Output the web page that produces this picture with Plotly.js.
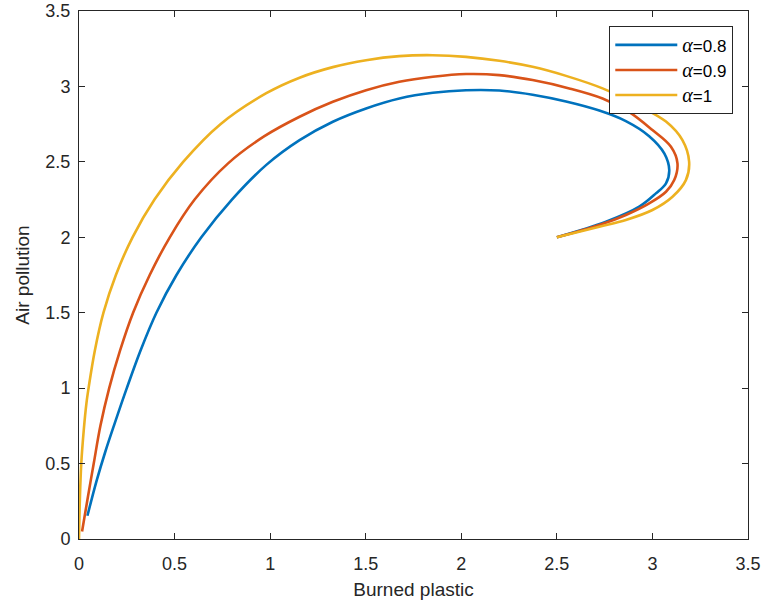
<!DOCTYPE html>
<html>
<head>
<meta charset="utf-8">
<script src="https://cdn.plot.ly/plotly-3.0.1.min.js"></script>
<style>html,body{margin:0;padding:0;background:#fff;}#chart{width:767px;height:613px;}</style>
</head>
<body>
<div id="chart"></div>
<script>
// Series names
const seriesNames = ['<span style="font-family:Liberation Serif;font-size:20px"><i>α</i></span>=0.8',
                     '<span style="font-family:Liberation Serif;font-size:20px"><i>α</i></span>=0.9',
                     '<span style="font-family:Liberation Serif;font-size:20px"><i>α</i></span>=1'];

// alpha = 0.8 (Burned plastic, Air pollution)
const x08 = [2.50, 2.757, 2.931, 3.018, 3.071, 3.088, 3.062, 2.983, 2.861, 2.722, 2.548, 2.373, 2.199, 2.025, 1.851, 1.676, 1.502, 1.328, 1.154, 0.980, 0.800, 0.640, 0.510, 0.405, 0.322, 0.250, 0.185, 0.138, 0.093, 0.044];
const y08 = [2.00, 2.103, 2.203, 2.291, 2.358, 2.446, 2.556, 2.670, 2.770, 2.840, 2.900, 2.945, 2.973, 2.975, 2.958, 2.920, 2.854, 2.766, 2.644, 2.480, 2.250, 2.000, 1.750, 1.500, 1.250, 1.000, 0.760, 0.580, 0.390, 0.154];

// alpha = 0.9
const x09 = [2.50, 2.722, 2.861, 2.983, 3.071, 3.114, 3.131, 3.097, 3.000, 2.879, 2.739, 2.565, 2.373, 2.199, 2.025, 1.851, 1.676, 1.502, 1.328, 1.154, 0.970, 0.780, 0.605, 0.475, 0.370, 0.283, 0.215, 0.158, 0.112, 0.077, 0.047, 0.016];
const y09 = [2.00, 2.081, 2.148, 2.225, 2.302, 2.379, 2.490, 2.600, 2.711, 2.830, 2.920, 2.987, 3.042, 3.075, 3.082, 3.064, 3.031, 2.975, 2.898, 2.799, 2.670, 2.490, 2.250, 2.000, 1.750, 1.500, 1.250, 1.000, 0.750, 0.500, 0.282, 0.050];

// alpha = 1
const x10 = [2.50, 2.722, 2.861, 3.000, 3.105, 3.175, 3.192, 3.157, 3.071, 2.931, 2.739, 2.548, 2.373, 2.199, 2.025, 1.851, 1.676, 1.502, 1.328, 1.154, 0.980, 0.740, 0.545, 0.395, 0.280, 0.193, 0.128, 0.083, 0.050, 0.039, 0.025, 0.012, 0.005, 0.000];
const y10 = [2.00, 2.070, 2.115, 2.181, 2.269, 2.379, 2.501, 2.644, 2.767, 2.870, 2.987, 3.070, 3.130, 3.170, 3.196, 3.207, 3.201, 3.174, 3.128, 3.058, 2.955, 2.750, 2.500, 2.250, 2.000, 1.750, 1.500, 1.250, 1.000, 0.901, 0.724, 0.503, 0.282, 0.000];

const xTicks = [0, 0.5, 1, 1.5, 2, 2.5, 3, 3.5];
const yTicks = [0, 0.5, 1, 1.5, 2, 2.5, 3, 3.5];
const xLabels = ['0', '0.5', '1', '1.5', '2', '2.5', '3', '3.5'];
const yLabels = ['0', '0.5', '1', '1.5', '2', '2.5', '3', '3.5'];

const colors = ['#0072BD', '#D95319', '#EDB120'];
const xs = [x08, x09, x10];
const ys = [y08, y09, y10];

const traces = xs.map((xv, i) => ({
  x: xv, y: ys[i], type: 'scatter', mode: 'lines', name: seriesNames[i],
  line: {color: colors[i], width: 2.6, shape: 'spline', smoothing: 1}
}));

const axisCommon = {
  range: [0, 3.5], showgrid: false, zeroline: false,
  showline: true, linecolor: '#262626', linewidth: 1, mirror: 'ticks',
  ticks: 'inside', ticklen: 6, tickwidth: 1, tickcolor: '#262626',
  tickfont: {family: 'Liberation Sans, Arial, sans-serif', size: 18, color: '#262626'}
};

const layout = {
  width: 767, height: 613,
  margin: {l: 79, r: 19, t: 11, b: 74},
  paper_bgcolor: '#fff', plot_bgcolor: '#fff',
  showlegend: true,
  xaxis: Object.assign({}, axisCommon, {
    tickvals: xTicks, ticktext: xLabels, ticklabelstandoff: 8,
    title: {text: 'Burned plastic', font: {family: 'Liberation Sans, Arial, sans-serif', size: 19, color: '#262626'}, standoff: 10}
  }),
  yaxis: Object.assign({}, axisCommon, {
    tickvals: yTicks, ticktext: yLabels, ticklabelstandoff: 4,
    title: {text: 'Air pollution', font: {family: 'Liberation Sans, Arial, sans-serif', size: 19, color: '#262626'}, standoff: 10}
  }),
  legend: {
    x: 0.978, y: 0.971, xanchor: 'right', yanchor: 'top',
    bgcolor: '#fff', bordercolor: '#262626', borderwidth: 1,
    font: {family: 'Liberation Sans, Arial, sans-serif', size: 17, color: '#000'},
    itemwidth: 62, tracegroupgap: 0
  }
};

Plotly.newPlot('chart', traces, layout, {displayModeBar: false, staticPlot: true});
</script>
</body>
</html>
